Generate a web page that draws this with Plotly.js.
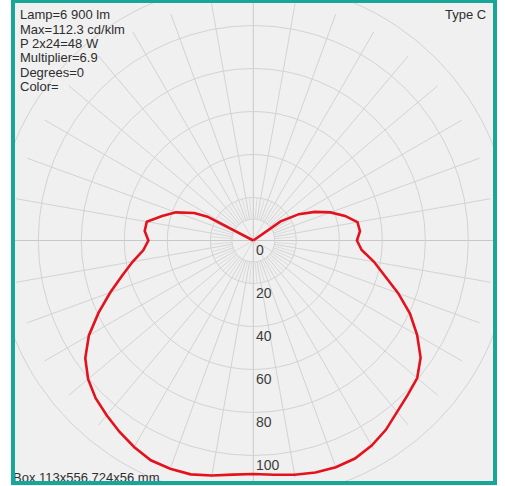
<!DOCTYPE html>
<html>
<head>
<meta charset="utf-8">
<script src="https://cdn.plot.ly/plotly-3.0.1.min.js"></script>
<style>
  html, body { margin: 0; padding: 0; background: #ffffff; }
  #wrap { position: relative; width: 505px; height: 486px; }
  #chart { width: 505px; height: 486px; }
  #frame { position: absolute; left: 11px; top: 0px; width: 486px; height: 485px;
           box-sizing: border-box; border-style: solid; border-color: #17a697;
           border-width: 3px 4px 4px 4px; pointer-events: none; }
</style>
</head>
<body>
<div id="wrap">
  <div id="chart"></div>
  <div id="frame"></div>
</div>
<script>
// ---- data (cd/klm), Type C photometry ----
const gammaDeg = [0,5,10,15,20,25,30,35,40,45,50,55,60,65,70,75,80,85,90,95,100,105,110,115,117.5,120,125,130,135,140,145,150,155,160,165,170,175,180];
const intensityLeft  = [108.6,109.3,111.0,112.6,113.0,112.8,110.9,108.6,106.1,103.7,100.3,95.4,88.3,79.4,70.8,63.2,57.0,51.3,48.8,50.7,50.3,43.9,38.3,30.3,24.0,0,0,0,0,0,0,0,0,0,0,0,0,0];
const intensityRight = [108.6,109.4,110.6,111.7,112.2,111.9,110.1,107.5,104.2,101.6,99.5,95.0,88.0,80.4,71.7,63.4,57.0,50.6,48.2,49.8,49.2,44.2,38.2,31.5,28.0,24.5,15.5,0,0,0,0,0,0,0,0,0,0,0];
const ringValues = [10,20,40,60,80,100,120];
const ringLabels = [0,20,40,60,80,100];
const infoLines = ["Lamp=6 900 lm","Max=112.3 cd/klm","P 2x24=48 W","Multiplier=6.9","Degrees=0","Color="];
const typeLabel = "Type C";
const boxLabel = "Box 113x556.724x56 mm";

// ---- geometry helpers ----
const W = 505, H = 486;
const M = {l: 15, r: 12, t: 3, b: 5};
const PW = W - M.l - M.r, PH = H - M.t - M.b;
const cx = 253.3, cy = 240.5, pxPerUnit = 2.15;
const xRange = [(M.l - cx) / pxPerUnit, (W - M.r - cx) / pxPerUnit];
const yRange = [-(H - M.b - cy) / pxPerUnit, (cy - M.t) / pxPerUnit];
const px2paperX = p => (p - M.l) / PW;
const px2paperY = p => (H - M.b - p) / PH;
const rad = d => d * Math.PI / 180;

// curve: left half from 180 down to 0, then right half from 0 up to 180
const cx_ = [], cy_ = [];
for (let i = gammaDeg.length - 1; i >= 0; i--) {
  const g = rad(gammaDeg[i]), r = intensityLeft[i];
  cx_.push(-r * Math.sin(g)); cy_.push(-r * Math.cos(g));
}
for (let i = 0; i < gammaDeg.length; i++) {
  const g = rad(gammaDeg[i]), r = intensityRight[i];
  cx_.push(r * Math.sin(g)); cy_.push(-r * Math.cos(g));
}

const gridColor = '#d3d3d3';
const shapes = [];
ringValues.forEach(v => shapes.push({type: 'circle', xref: 'x', yref: 'y', x0: -v, x1: v, y0: -v, y1: v,
  line: {color: gridColor, width: 1}, layer: 'below'}));
function radial(a, r0, r1, col) {
  const s = Math.sin(rad(a)), c = Math.cos(rad(a));
  shapes.push({type: 'line', xref: 'x', yref: 'y', x0: r0 * s, y0: r0 * c, x1: r1 * s, y1: r1 * c,
    line: {color: col || gridColor, width: 1}, layer: 'below'});
}
for (let a = 0; a < 360; a += 10) { if (a % 90 !== 0) radial(a, 10, 112); }
for (let a = 5; a < 360; a += 10) radial(a, 10, 20, '#dcdcdc');
for (let a = 30; a < 360; a += 30) { if (a % 90 !== 0) radial(a, 0, 10, '#dcdcdc'); }
shapes.push({type: 'line', xref: 'paper', yref: 'y', x0: 0, x1: 1, y0: 0, y1: 0, line: {color: '#c8c8c8', width: 1}, layer: 'below'});
shapes.push({type: 'line', xref: 'x', yref: 'paper', x0: 0, x1: 0, y0: 0, y1: 1, line: {color: '#c8c8c8', width: 1}, layer: 'below'});

const font = {family: 'Liberation Sans, Arial, sans-serif', size: 13, color: '#2e2e2e'};
const annotations = [];
infoLines.forEach((t, i) => annotations.push({text: t, xref: 'paper', yref: 'paper',
  x: px2paperX(18), y: px2paperY(14.8 + 14.3 * i), xanchor: 'left', yanchor: 'middle', showarrow: false, font: font}));
annotations.push({text: typeLabel, xref: 'paper', yref: 'paper', x: px2paperX(488), y: px2paperY(15),
  xanchor: 'right', yanchor: 'middle', showarrow: false, font: font});
annotations.push({text: boxLabel, xref: 'paper', yref: 'paper', x: px2paperX(11), y: px2paperY(477),
  xanchor: 'left', yanchor: 'middle', showarrow: false, font: font});
ringLabels.forEach(v => annotations.push({text: String(v), xref: 'x', yref: 'y', x: 0, y: -v,
  xanchor: 'left', yanchor: 'middle', xshift: 1, yshift: -9.5, showarrow: false,
  font: {family: font.family, size: 14, color: '#3c3c3c'}}));

const trace = {x: cx_, y: cy_, type: 'scatter', mode: 'lines',
  line: {color: '#e3121c', width: 2.6}, hoverinfo: 'skip'};

const layout = {
  width: W, height: H, margin: M,
  paper_bgcolor: '#ffffff', plot_bgcolor: '#f0f0f0',
  showlegend: false,
  xaxis: {range: xRange, showgrid: false, zeroline: false, showticklabels: false, showline: false, fixedrange: true},
  yaxis: {range: yRange, showgrid: false, zeroline: false, showticklabels: false, showline: false, fixedrange: true},
  shapes: shapes, annotations: annotations
};
Plotly.newPlot('chart', [trace], layout, {displayModeBar: false, staticPlot: true});
</script>
</body>
</html>
